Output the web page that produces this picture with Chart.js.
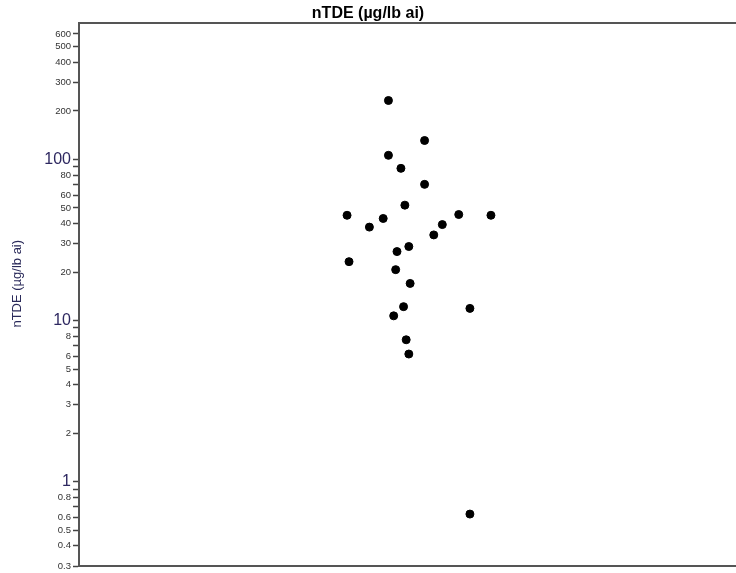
<!DOCTYPE html>
<html>
<head>
<meta charset="utf-8">
<script src="https://cdn.jsdelivr.net/npm/chart.js@4"></script>
<style>
  body { margin: 0; background: #fff; }
  #wrap { width: 736px; height: 573px; }
</style>
</head>
<body>
<div id="wrap"><canvas id="chart"></canvas></div>
<script>
// Jitter positions (x has no meaning, just spread) and nTDE values
const jitterX = [47.1, 52.6, 47.1, 49.0, 52.6, 49.6, 40.8, 46.3, 44.2, 57.8, 62.7, 55.3,
                 54.0, 50.2, 48.4, 41.1, 48.2, 50.4, 49.4, 59.5, 47.9, 49.8, 50.2, 59.5];
const nTdeValues = [232, 131, 106, 88, 70, 52, 45, 43, 38, 45.5, 45, 39.4,
                    34, 28.8, 26.8, 23.2, 20.7, 17, 12.2, 11.9, 10.7, 7.6, 6.2, 0.63];

// y ticks: labelled ones and unlabelled minor ticks
const labelledTicks = [600, 500, 400, 300, 200, 100, 80, 60, 50, 40, 30, 20, 10, 8, 6, 5, 4, 3, 2, 1, 0.8, 0.6, 0.5, 0.4, 0.3];
const minorTicks = [90, 70, 9, 7, 0.9, 0.7];
const majorTicks = [100, 10, 1];

const points = jitterX.map((x, i) => ({ x: x, y: nTdeValues[i] }));

const canvas = document.getElementById('chart');

// drop the extra padding Chart.js adds for edge labels
const noPad = (scale) => {
    scale.paddingTop = 0;
    scale.paddingBottom = 0;
    scale.paddingLeft = 0;
    scale.paddingRight = 0;
};

const chart = new Chart(canvas, {
    type: 'scatter',
    data: {
        datasets: [{
            data: points,
            backgroundColor: '#000',
            borderColor: '#000',
            pointRadius: 4,
            pointHoverRadius: 4
        }]
    },
    options: {
        responsive: true,
        maintainAspectRatio: false,
        animation: false,
        layout: { autoPadding: false, padding: { left: 0, right: 0, top: 0, bottom: 7 } },
        plugins: {
            legend: { display: false },
            tooltip: { enabled: false },
            title: {
                display: true,
                text: 'nTDE (µg/lb ai)',
                color: '#000',
                font: { family: 'Liberation Sans, Arial', size: 16, weight: 'bold' },
                padding: { top: 4, bottom: 0 }
            }
        },
        scales: {
            x: {
                type: 'linear',
                position: 'bottom',
                min: 0,
                max: 100,
                afterFit: noPad,
                grid: { display: false, drawTicks: false },
                ticks: { display: false },
                border: { display: true, color: '#555', width: 2 }
            },
            xTop: {
                type: 'linear',
                position: 'top',
                min: 0,
                max: 100,
                afterFit: noPad,
                grid: { display: false, drawTicks: false },
                ticks: { display: false },
                border: { display: true, color: '#555', width: 2 }
            },
            y: {
                type: 'logarithmic',
                min: 0.3,
                max: 700,
                afterBuildTicks: (scale) => {
                    scale.ticks = labelledTicks.concat(minorTicks)
                        .sort((a, b) => a - b)
                        .map(v => ({ value: v }));
                },
                afterFit: (scale) => { scale.width = 79; noPad(scale); },
                grid: {
                    drawOnChartArea: false,
                    tickLength: 6,
                    tickColor: '#444',
                    tickWidth: 1.5
                },
                border: { display: true, color: '#555', width: 2 },
                ticks: {
                    autoSkip: false,
                    padding: 2,
                    callback: (value) => labelledTicks.includes(value) ? String(value) : '',
                    font: (ctx) => majorTicks.includes(ctx.tick && ctx.tick.value)
                        ? { family: 'Liberation Sans, Arial', size: 16 }
                        : { family: 'Liberation Sans, Arial', size: 9.5 },
                    color: (ctx) => majorTicks.includes(ctx.tick && ctx.tick.value) ? '#2e2860' : '#333'
                },
                title: {
                    display: true,
                    text: '      nTDE (µg/lb ai)',
                    color: '#2a2a5a',
                    font: { family: 'Liberation Sans, Arial', size: 13 },
                    padding: { top: 10, bottom: 0 }
                }
            }
        }
    }
});
</script>
</body>
</html>
